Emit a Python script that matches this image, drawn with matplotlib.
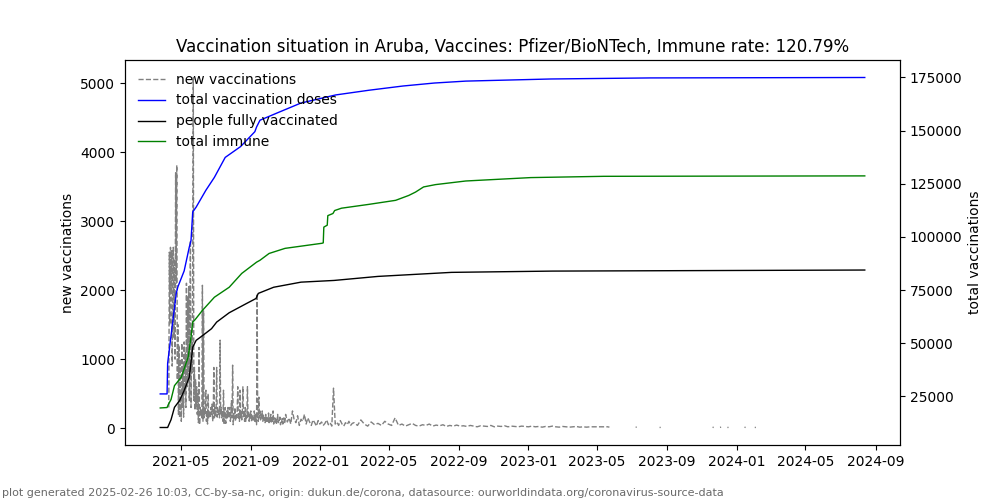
import matplotlib
matplotlib.use("Agg")
import matplotlib.pyplot as plt
import matplotlib.dates as mdates
import numpy as np
import pandas as pd

title = "Vaccination situation in Aruba, Vaccines: Pfizer/BioNTech, Immune rate: 120.79%"
footer = ("plot generated 2025-02-26 10:03, CC-by-sa-nc, origin: dukun.de/corona, "
          "datasource: ourworldindata.org/coronavirus-source-data")

# ---- total vaccination doses (right axis)
doses_dates = ["2021-03-26", "2021-04-07", "2021-04-08", "2021-04-23", "2021-04-26",
               "2021-05-07", "2021-05-16", "2021-05-19", "2021-05-22", "2021-05-28",
               "2021-06-14", "2021-06-29", "2021-07-18", "2021-08-14", "2021-09-08",
               "2021-09-11", "2021-09-17", "2021-10-17", "2021-11-28", "2022-01-28",
               "2022-03-27", "2022-05-26", "2022-07-20", "2022-09-13", "2023-02-09",
               "2023-08-03", "2024-08-13"]
doses_values = [26100, 26100, 40500, 73300, 76500,
                84000, 95200, 98300, 111700, 114000,
                121900, 128000, 137400, 142500, 149500,
                151700, 154900, 158300, 163000, 166800,
                169000, 171000, 172400, 173300, 174300,
                174800, 175000]

# ---- people fully vaccinated (right axis)
full_dates = ["2021-03-26", "2021-04-08", "2021-04-14", "2021-04-20", "2021-04-29",
              "2021-05-07", "2021-05-16", "2021-05-19", "2021-05-22", "2021-05-28",
              "2021-06-09", "2021-06-24", "2021-07-03", "2021-07-25", "2021-08-24",
              "2021-09-10", "2021-09-14", "2021-10-11", "2021-11-28", "2022-01-25",
              "2022-04-12", "2022-08-19", "2023-02-12", "2024-08-13"]
full_values = [10300, 10300, 14000, 19800, 23000,
               27700, 34000, 41000, 48100, 51300,
               53700, 56800, 59900, 64300, 68600,
               71000, 73400, 76300, 78700, 79500,
               81400, 83300, 83900, 84400]

# ---- total immune (right axis)
immune_dates = ["2021-03-26", "2021-04-07", "2021-04-09", "2021-04-14", "2021-04-20",
                "2021-05-02", "2021-05-14", "2021-05-19", "2021-05-22", "2021-05-26",
                "2021-06-08", "2021-06-29", "2021-07-25", "2021-08-16", "2021-09-11",
                "2021-09-17", "2021-10-03", "2021-10-31", "2022-01-04", "2022-01-06",
                "2022-01-07", "2022-01-13", "2022-01-14", "2022-01-23", "2022-01-26",
                "2022-02-07", "2022-03-27", "2022-05-13", "2022-06-05", "2022-06-17",
                "2022-07-01", "2022-07-22", "2022-09-13", "2023-01-05", "2023-05-13",
                "2024-08-13"]
immune_values = [19500, 19700, 21000, 23500, 30000,
                 34000, 43400, 52800, 59900, 61000,
                 65400, 71600, 76300, 82800, 88100,
                 89000, 92200, 94600, 97000, 97200,
                 104600, 105500, 110000, 111000, 112400,
                 113500, 115300, 117200, 119500, 121100,
                 123500, 124600, 126300, 127900, 128500,
                 128700]

# ---- new vaccinations (left axis)
# daily values starting 2021-04-10
new_daily_start = "2021-04-10"
new_daily = [300, 2550, 1500, 2620, 2000, 2580, 900, 2500, 2620, 1300, 2450, 1000,
             3700, 2100, 3810, 700, 1500, 200, 1200, 150, 1000,
             # May
             400, 100, 1230, 300, 900, 160, 1250, 500, 1100, 300, 2100, 600, 1900,
             700, 2050, 400, 1500, 2720, 300, 1300, 800, 2400, 5080, 400, 880, 260,
             700, 300, 600, 200, 500,
             # June
             80, 1170, 50, 300, 200, 250, 150, 2070, 100, 1700, 150, 300, 200, 550,
             100, 250, 60, 500, 150, 200, 250, 150, 300, 200, 350, 100, 200, 880,
             150, 300,
             # July
             160, 250, 880, 160, 300, 200, 250, 150, 1275, 200, 300, 150, 250, 100,
             550, 70, 200, 300, 70, 200, 250, 150, 300, 150, 200, 300, 100, 200, 400,
             150, 913,
             # August
             50, 200, 150, 300, 100, 200, 150, 250, 600, 150, 200, 100, 550, 150,
             250, 120, 200, 600, 150, 250, 100, 300, 100, 200, 150, 600, 150, 250,
             100, 200, 150,
             # September
             250, 100, 200, 100, 150, 100, 250, 100, 200, 150, 50, 1950, 150, 100,
             450, 150, 250, 120, 200, 150, 250, 100, 200, 100, 150, 80, 200, 100,
             150, 100,
             # October
             120, 220, 80, 150, 100, 200, 70, 150, 100, 250, 60, 120, 150, 90, 130,
             60, 110, 200, 80, 120, 100, 160, 50, 110, 90, 140, 60, 100, 150, 70, 100]

# every 3 days starting 2021-11-01
new_seg_a_start = "2021-11-01"
new_seg_a = [200, 90, 150, 60, 250, 120, 80, 180, 40, 130,
             100, 200, 60, 150, 90, 40, 120, 80, 30, 110,
             60, 90, 40, 70, 120, 50, 80, 30, 580, 60,
             90, 40, 110, 60, 30, 80, 50, 100, 40, 70]

# every 6 days starting 2022-03-01
new_seg_b_start = "2022-03-01"
new_seg_b = [80, 40, 120, 60, 30, 90, 50, 70, 40, 100,
             60, 40, 150, 40, 60, 30, 50, 70, 40, 30,
             50, 40, 60, 30, 45, 35, 50, 25, 40, 30,
             45, 30, 35, 25, 40, 30, 20, 35, 30, 25,
             40, 20, 30, 25, 35, 20, 30, 25, 20, 30,
             25, 20, 30, 20, 25, 15, 25, 20, 30, 20,
             15, 25, 20, 15, 20, 25, 15, 20, 15, 20]

# sparse reports afterwards (None breaks the line)
new_seg_c_dates = ["2023-05-20", "2023-05-23", "2023-06-01",
                   "2023-07-08", "2023-07-10", "2023-07-15",
                   "2023-08-19", "2023-08-21", "2023-08-25",
                   "2023-11-20", "2023-11-22", "2023-11-27",
                   "2023-12-03", "2023-12-05", "2023-12-10",
                   "2023-12-16", "2023-12-18", "2023-12-25",
                   "2024-01-15", "2024-01-17", "2024-01-25",
                   "2024-02-02", "2024-02-04"]
new_seg_c = [20, 15, None,
             15, 15, None,
             10, 12, None,
             15, 10, None,
             12, 15, None,
             10, 12, None,
             15, 10, None,
             12, 10]

# ---------------------------------------------------------------------------
def seg(start, vals, freq):
    idx = pd.date_range(start, periods=len(vals), freq=freq)
    return pd.Series(vals, index=idx, dtype=float)

new_series = pd.concat([
    seg(new_daily_start, new_daily, "D"),
    seg(new_seg_a_start, new_seg_a, "3D"),
    seg(new_seg_b_start, new_seg_b, "6D"),
    pd.Series([np.nan if v is None else v for v in new_seg_c],
              index=pd.to_datetime(new_seg_c_dates), dtype=float),
]).sort_index()

fig, ax1 = plt.subplots(figsize=(10, 5), dpi=100)
ax2 = ax1.twinx()

l0, = ax1.plot(new_series.index, new_series.values, "--", color="gray", lw=1,
               label="new vaccinations")
l1, = ax2.plot(pd.to_datetime(doses_dates), doses_values, color="blue", lw=1,
               label="total vaccination doses")
l2, = ax2.plot(pd.to_datetime(full_dates), full_values, color="black", lw=1,
               label="people fully vaccinated")
l3, = ax2.plot(pd.to_datetime(immune_dates), immune_values, color="green", lw=1,
               label="total immune")

ax1.set_ylabel("new vaccinations")
ax2.set_ylabel("total vaccinations")
ax1.set_title(title)

ax1.xaxis.set_major_locator(mdates.MonthLocator(bymonth=[1, 5, 9]))
ax1.xaxis.set_major_formatter(mdates.DateFormatter("%Y-%m"))

ax2.legend(handles=[l0, l1, l2, l3], loc="upper left", frameon=False)

fig.text(0.002, 0.004, footer, fontsize=8, color="dimgray", ha="left", va="bottom")

fig.savefig("out.png", dpi=100)
